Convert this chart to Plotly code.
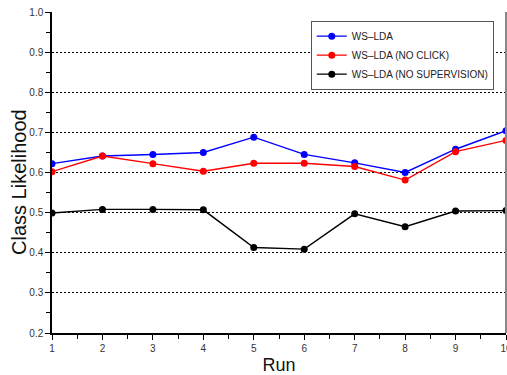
import plotly.graph_objects as go

runs = [1, 2, 3, 4, 5, 6, 7, 8, 9, 10]
ws_lda = [0.622, 0.641, 0.645, 0.650, 0.688, 0.645, 0.624, 0.600, 0.658, 0.704]
ws_lda_no_click = [0.602, 0.641, 0.622, 0.603, 0.623, 0.623, 0.615, 0.581, 0.652, 0.680]
ws_lda_no_sup = [0.499, 0.508, 0.508, 0.507, 0.413, 0.409, 0.497, 0.465, 0.504, 0.505]

series = [
    ("WS\u2013LDA", ws_lda, "#0000ff"),
    ("WS\u2013LDA (NO CLICK)", ws_lda_no_click, "#ff0000"),
    ("WS\u2013LDA (NO SUPERVISION)", ws_lda_no_sup, "#000000"),
]

fig = go.Figure()
for name, vals, col in series:
    fig.add_trace(go.Scatter(
        x=runs, y=vals, name=name, mode="lines+markers",
        line=dict(color=col, width=1.4),
        marker=dict(color=col, size=7, symbol="circle"),
    ))

fig.update_layout(
    template="none",
    width=507, height=375,
    margin=dict(l=52, r=1, t=12, b=42),
    paper_bgcolor="white", plot_bgcolor="white",
    font=dict(family="Liberation Sans, Arial, sans-serif", color="#222"),
    showlegend=True,
    legend=dict(
        x=0.570, y=0.973, xanchor="left", yanchor="top",
        bgcolor="white", bordercolor="#555", borderwidth=1,
        font=dict(size=10, color="#222"),
        itemwidth=30,
    ),
    xaxis=dict(
        range=[1, 10], tickmode="linear", tick0=1, dtick=1,
        showgrid=False, zeroline=False,
        showline=True, linecolor="black", linewidth=1.5,
        ticks="outside", ticklen=5, tickcolor="black",
        minor=dict(ticks="outside", dtick=0.5, ticklen=4, tickcolor="black", showgrid=False),
        tickfont=dict(size=10, color="#333"),
        ticklabeloverflow="allow",
        title=dict(text="Run", font=dict(size=18, color="#111"), standoff=8),
        automargin=False,
    ),
    yaxis=dict(
        range=[0.2, 1.0], tickmode="linear", tick0=0.2, dtick=0.1,
        tickformat=".1f",
        showgrid=True, gridcolor="black", gridwidth=1, griddash="2px,2px",
        zeroline=False,
        showline=True, linecolor="black", linewidth=1.5,
        ticks="outside", ticklen=5, tickcolor="black",
        minor=dict(ticks="outside", dtick=0.05, ticklen=4, tickcolor="black", showgrid=False),
        tickfont=dict(size=10, color="#333"),
        ticklabeloverflow="allow",
        automargin=False,
    ),
    annotations=[dict(
        text="Class Likelihood", textangle=-90,
        xref="paper", yref="paper", x=0, y=0.5,
        xanchor="center", yanchor="middle",
        xshift=-33.5, yshift=-10, showarrow=False,
        font=dict(size=20, color="#111"),
    )],
    shapes=[dict(type="line", xref="paper", yref="paper", x0=1, x1=1, y0=0, y1=1,
                 line=dict(color="#888", width=2))],
)

fig.write_html(
    "out.html",
    config={"displayModeBar": False},
    post_script="document.body.style.margin='0';document.body.style.overflow='hidden';",
)
